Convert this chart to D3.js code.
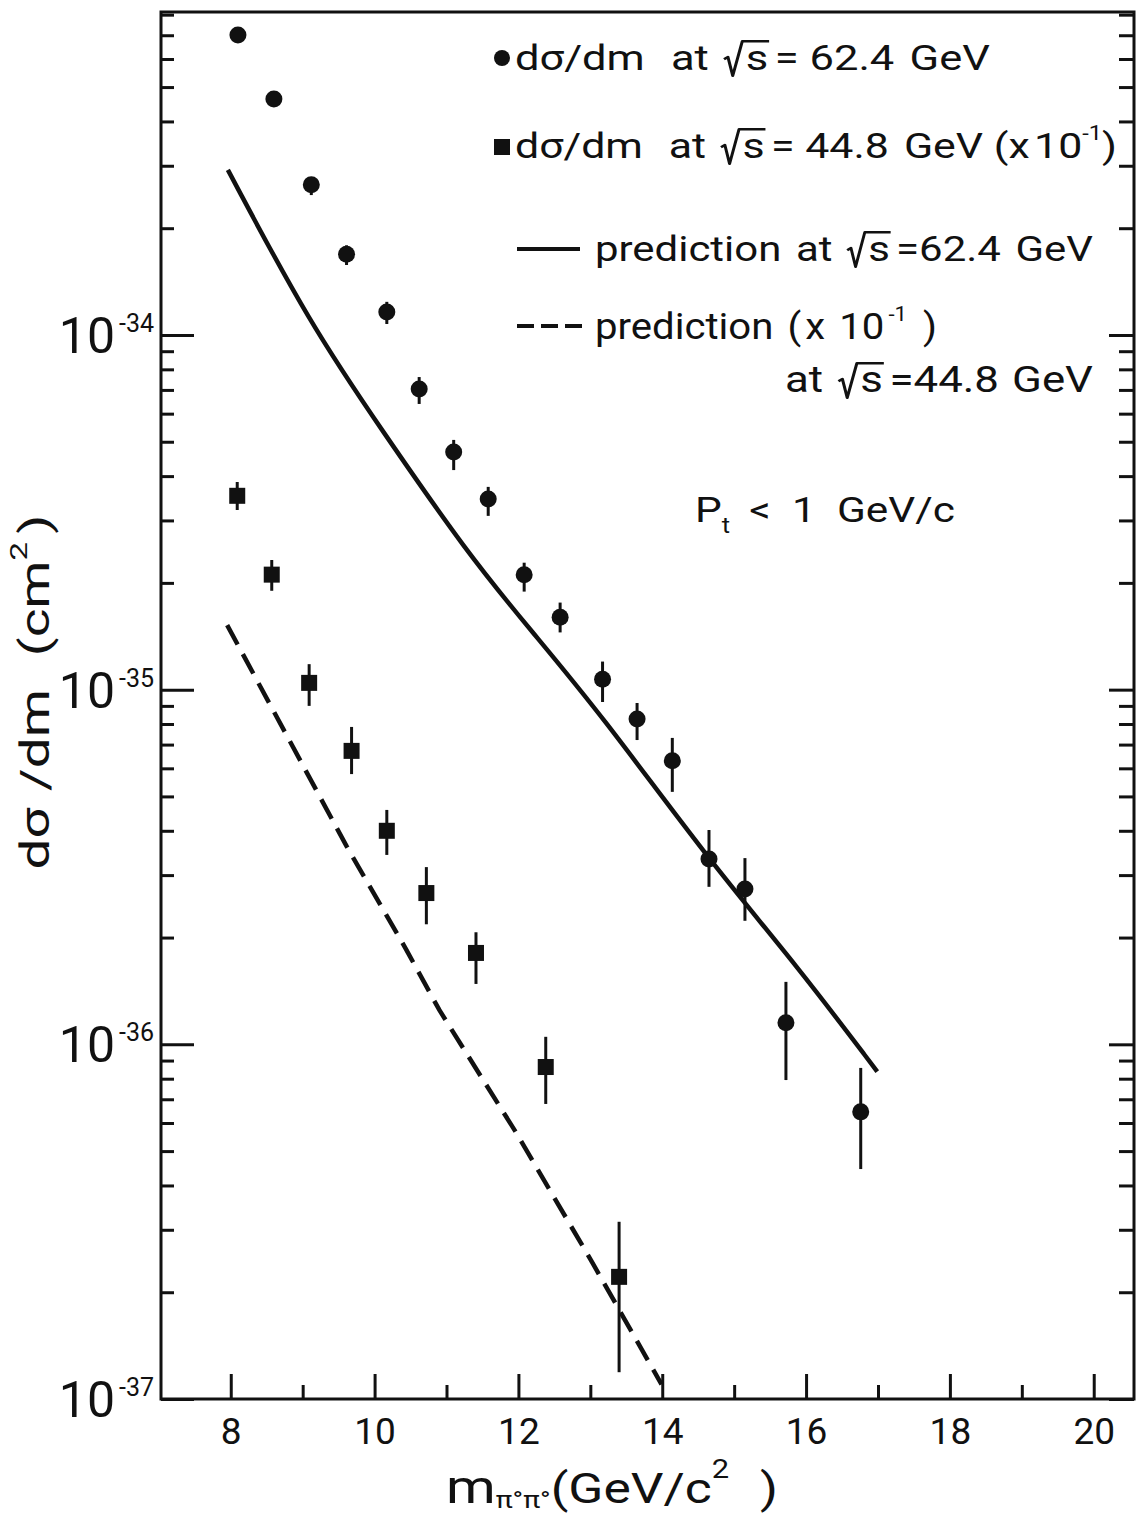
<!DOCTYPE html>
<html>
<head>
<meta charset="utf-8">
<script src="https://cdn.jsdelivr.net/npm/d3@7"></script>
<style>
body { margin: 0; background: #fff; }
text { font-family: Roboto, "Open Sans", sans-serif; fill: #111; }
</style>
</head>
<body>
<div id="chart"></div>
<script>
// data (dsigma/dm in cm^2 per GeV/c^2)
var m624 = [8.10, 8.60, 9.12, 9.61, 10.17, 10.62, 11.10, 11.58, 12.08, 12.58, 13.17, 13.65, 14.14, 14.65, 15.15, 15.72, 16.76]
var sig624 = [7.01e-34, 4.63e-34, 2.65e-34, 1.69e-34, 1.16e-34, 7.04e-35, 4.68e-35, 3.45e-35, 2.11e-35, 1.60e-35, 1.07e-35, 8.27e-36, 6.30e-36, 3.33e-36, 2.74e-36, 1.15e-36, 6.45e-37]
var hi624 = [7.2e-34, 4.75e-34, 2.77e-34, 1.79e-34, 1.24e-34, 7.61e-35, 5.06e-35, 3.73e-35, 2.28e-35, 1.76e-35, 1.20e-35, 9.17e-36, 7.31e-36, 4.02e-36, 3.35e-36, 1.50e-36, 8.58e-37]
var lo624 = [6.8e-34, 4.5e-34, 2.48e-34, 1.575e-34, 1.074e-34, 6.39e-35, 4.16e-35, 3.09e-35, 1.89e-35, 1.45e-35, 9.23e-36, 7.21e-36, 5.15e-36, 2.78e-36, 2.23e-36, 7.93e-37, 4.45e-37]

var m448 = [8.09, 8.57, 9.09, 9.68, 10.17, 10.72, 11.41, 12.38, 13.40]
var sig448 = [3.52e-35, 2.11e-35, 1.045e-35, 6.72e-36, 4.0e-36, 2.67e-36, 1.81e-36, 8.63e-37, 2.21e-37]
var hi448 = [3.85e-35, 2.32e-35, 1.18e-35, 7.85e-36, 4.58e-36, 3.16e-36, 2.07e-36, 1.05e-36, 3.16e-37]
var lo448 = [3.21e-35, 1.90e-35, 9.0e-36, 5.78e-36, 3.42e-36, 2.18e-36, 1.48e-36, 6.79e-37, 1.19e-37]

// predictions
var predM624 = [7.96, 9.10, 10.11, 11.28, 12.19, 13.13, 14.65, 15.88, 16.99]
var pred624 = [2.92e-34, 1.074e-34, 5.36e-35, 2.44e-35, 1.455e-35, 8.62e-36, 3.30e-36, 1.66e-36, 8.38e-37]
var predM448 = [7.95, 9.61, 10.44, 10.90, 11.97, 13.03, 13.99]
var pred448 = [1.52e-35, 3.62e-36, 1.85e-36, 1.25e-36, 5.63e-37, 2.42e-37, 1.10e-37]

var xMajor = [8, 10, 12, 14, 16, 18, 20]
var xMinor = [9, 11, 13, 15, 17, 19]
var yDecades = [-37, -36, -35, -34]

var width = 1137
var height = 1518
var ink = '#111'

var svg = d3.select('#chart')
    .append('svg')
    .attr('width', width)
    .attr('height', height)

var x = d3.scaleLinear().domain([7.03, 20.56]).range([161, 1134])
var y = d3.scaleLog().domain([1e-37, 8.14e-34]).range([1399, 12])

var yMajor = yDecades.map(function(d){ return Math.pow(10, d) })
var yMinor = []
yDecades.forEach(function(d){
    for (var k = 2; k <= 9; k++) {
        var v = k * Math.pow(10, d)
        if (v < y.domain()[1]) yMinor.push(v)
    }
})

// frame
svg.append('rect')
    .attr('x', 161).attr('y', 12)
    .attr('width', 1134 - 161).attr('height', 1399 - 12)
    .attr('fill', 'none').attr('stroke', ink).attr('stroke-width', 3)

function styleAxis(g){
    g.select('.domain').remove()
    g.selectAll('line').attr('stroke', ink).attr('stroke-width', 3)
}

// bottom axis
svg.append('g').attr('transform', 'translate(0,1399)')
    .call(d3.axisBottom(x).tickValues(xMajor).tickSize(-25).tickPadding(19).tickFormat(d3.format('d')))
    .call(styleAxis)
    .call(function(g){
        g.selectAll('text').attr('fill', ink).style('font-size', '37px').style('font-family', 'Roboto, sans-serif')
    })
svg.append('g').attr('transform', 'translate(0,1399)')
    .call(d3.axisBottom(x).tickValues(xMinor).tickSize(-14).tickFormat(''))
    .call(styleAxis)

// left axis
svg.append('g').attr('transform', 'translate(161,0)')
    .call(d3.axisLeft(y).tickValues(yMajor).tickSize(-33).tickFormat(''))
    .call(styleAxis)
svg.append('g').attr('transform', 'translate(161,0)')
    .call(d3.axisLeft(y).tickValues(yMinor).tickSize(-13).tickFormat(''))
    .call(styleAxis)

// right axis
svg.append('g').attr('transform', 'translate(1134,0)')
    .call(d3.axisRight(y).tickValues(yMajor).tickSize(-25).tickFormat(''))
    .call(styleAxis)
svg.append('g').attr('transform', 'translate(1134,0)')
    .call(d3.axisRight(y).tickValues(yMinor).tickSize(-15).tickFormat(''))
    .call(styleAxis)

// text built from pieces; numbers are gaps in em
function rich(parent, parts, fs, x0, y0, targetW, anchor){
    var g = parent.append('g')
    var cx = 0
    parts.forEach(function(p){
        if (typeof p === 'number') { cx += p * fs; return }
        if (typeof p === 'string') p = {t: p}
        if (p.sqrt) {
            var t = g.append('text').attr('x', cx + 0.5 * fs).attr('y', 0)
                .style('font-size', fs + 'px').text(p.sqrt)
            var w = t.node().getComputedTextLength()
            g.append('path')
                .attr('d', 'M' + cx + ',' + (-0.3 * fs) +
                    ' L' + (cx + 0.09 * fs) + ',' + (-0.36 * fs) +
                    ' L' + (cx + 0.2 * fs) + ',' + (0.16 * fs) +
                    ' L' + (cx + 0.42 * fs) + ',' + (-0.8 * fs) +
                    ' L' + (cx + 0.52 * fs + w) + ',' + (-0.8 * fs))
                .attr('fill', 'none').attr('stroke', ink)
                .attr('stroke-width', 0.07 * fs).attr('stroke-linejoin', 'round')
            cx += 0.55 * fs + w
            return
        }
        var s = p.s || 1
        var t2 = g.append('text').attr('x', cx).attr('y', (p.dy || 0) * fs)
            .style('font-size', (fs * s) + 'px').text(p.t)
        cx += t2.node().getComputedTextLength()
    })
    var sx = targetW ? targetW / cx : 1
    var w2 = cx * sx
    var left = x0
    if (anchor === 'middle') left = x0 - w2 / 2
    if (anchor === 'end') left = x0 - w2
    g.attr('transform', 'translate(' + left + ',' + y0 + ') scale(' + sx + ',1)')
    return g
}

// y tick labels
yDecades.forEach(function(d){
    rich(svg, ['10', 0.08, {t: '-' + Math.abs(d), s: 0.5, dy: -0.42}], 50, 154, y(Math.pow(10, d)) + 18, null, 'end')
})

// axis titles
var yt = svg.append('g').attr('transform', 'translate(49,692) rotate(-90)')
rich(yt, ['d\u03c3', 0.3, '/dm', 0.6, '(cm', {t: '2', s: 0.6, dy: -0.55}, 0.15, ')'], 40, 0, 0, 355, 'middle')

rich(svg, [{t: 'm', s: 1.1}, {t: '\u03c0\u00b0\u03c0\u00b0', s: 0.55, dy: 0.12}, '(GeV/c', {t: '2', s: 0.6, dy: -0.6}, 0.6, ')'],
    42, 446, 1503, 332)

// prediction curves
var line = d3.line()
    .x(function(d){ return x(d[0]) })
    .y(function(d){ return y(d[1]) })
    .curve(d3.curveBasis)

svg.append('path')
    .datum(d3.zip(predM624, pred624))
    .attr('d', line)
    .attr('fill', 'none').attr('stroke', ink).attr('stroke-width', 4.5)

svg.append('path')
    .datum(d3.zip(predM448, pred448))
    .attr('d', line.curve(d3.curveLinear))
    .attr('fill', 'none').attr('stroke', ink).attr('stroke-width', 4.5)
    .attr('stroke-dasharray', '22,11')

// error bars + markers
function errorBars(ms, lo, hi){
    svg.append('g').selectAll('line')
        .data(d3.range(ms.length))
        .enter()
        .append('line')
        .attr('x1', function(i){ return x(ms[i]) })
        .attr('x2', function(i){ return x(ms[i]) })
        .attr('y1', function(i){ return y(lo[i]) })
        .attr('y2', function(i){ return y(hi[i]) })
        .attr('stroke', ink).attr('stroke-width', 3)
}
errorBars(m624, lo624, hi624)
errorBars(m448, lo448, hi448)

svg.append('g').selectAll('circle')
    .data(d3.zip(m624, sig624))
    .enter()
    .append('circle')
    .attr('cx', function(d){ return x(d[0]) })
    .attr('cy', function(d){ return y(d[1]) })
    .attr('r', 8.5)
    .attr('fill', ink)

svg.append('g').selectAll('rect')
    .data(d3.zip(m448, sig448))
    .enter()
    .append('rect')
    .attr('x', function(d){ return x(d[0]) - 8 })
    .attr('y', function(d){ return y(d[1]) - 8 })
    .attr('width', 16).attr('height', 16)
    .attr('fill', ink)

// legend
svg.append('circle').attr('cx', 502).attr('cy', 58).attr('r', 8).attr('fill', ink)
rich(svg, ['d\u03c3/dm', 0.6, 'at', 0.35, {sqrt: 's'}, 0.1, '=', 0.25, '62.4', 0.35, 'GeV'], 36, 515, 70, 475)

svg.append('rect').attr('x', 494).attr('y', 139).attr('width', 16).attr('height', 16).attr('fill', ink)
rich(svg, ['d\u03c3/dm', 0.6, 'at', 0.35, {sqrt: 's'}, 0.1, '=', 0.25, '44.8', 0.35, 'GeV', 0.25, '(x', 0.1, '10', {t: '-1', s: 0.55, dy: -0.5}, ')'],
    36, 515, 158, 602)

svg.append('line').attr('x1', 517).attr('x2', 580).attr('y1', 249).attr('y2', 249)
    .attr('stroke', ink).attr('stroke-width', 4)
rich(svg, ['prediction', 0.35, 'at', 0.35, {sqrt: 's'}, 0.1, '=62.4', 0.35, 'GeV'], 36, 595, 261, 498)

svg.append('line').attr('x1', 517).attr('x2', 583).attr('y1', 326).attr('y2', 326)
    .attr('stroke', ink).attr('stroke-width', 4).attr('stroke-dasharray', '17,7')
rich(svg, ['prediction', 0.35, '(', 0.1, 'x', 0.35, '10', 0.1, {t: '-1', s: 0.55, dy: -0.5}, 0.4, ')'], 36, 595, 339, 342)
rich(svg, ['at', 0.35, {sqrt: 's'}, 0.1, '=44.8', 0.3, 'GeV'], 36, 785, 392, 308)

rich(svg, ['P', {t: 't', s: 0.6, dy: 0.3}, 0.45, '<', 0.5, '1', 0.5, 'GeV/c'], 36, 695, 522, 260)
</script>
</body>
</html>
